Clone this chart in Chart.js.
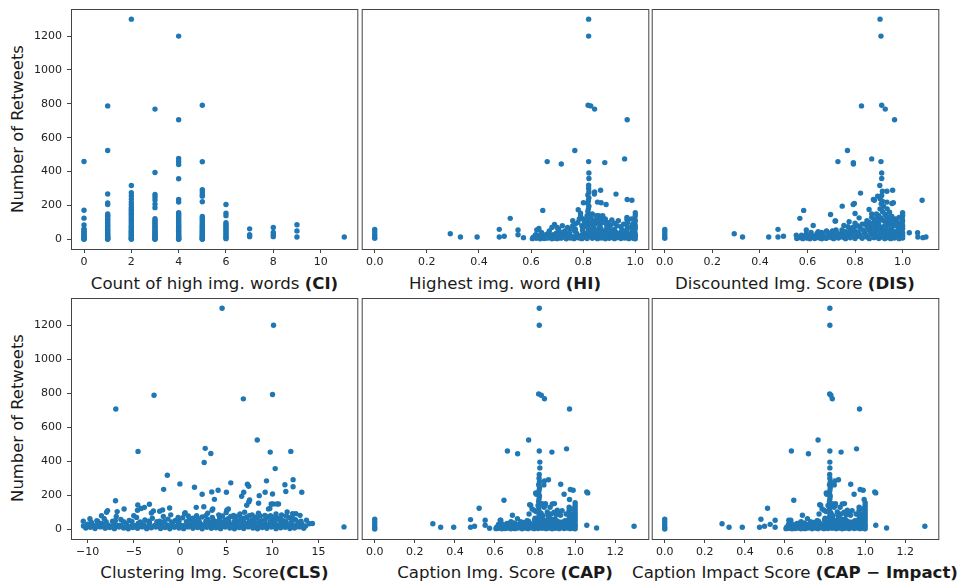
<!DOCTYPE html>
<html><head><meta charset="utf-8">
<script src="https://cdn.jsdelivr.net/npm/chart.js@4.4.1/dist/chart.umd.min.js"></script>
<style>
html,body{margin:0;padding:0;background:#fff;}
body{width:959px;height:584px;position:relative;overflow:hidden;font-family:"DejaVu Sans",sans-serif;color:#1a1a1a;}
canvas{position:absolute;}
.xt{position:absolute;white-space:nowrap;font-size:16.6px;transform:translate(-50%,-50%);}
.yt{position:absolute;white-space:nowrap;font-size:16.4px;transform:translate(-50%,-50%) rotate(-90deg);}
</style></head><body>
<div class="yt" style="left:17px;top:129px">Number of Retweets</div>
<div class="yt" style="left:17px;top:418px">Number of Retweets</div>
<div class="xt" style="left:214.5px;top:283px">Count of high img. words <b>(CI)</b></div>
<div class="xt" style="left:505px;top:283px">Highest img. word <b>(HI)</b></div>
<div class="xt" style="left:795px;top:283px">Discounted Img. Score <b>(DIS)</b></div>
<div class="xt" style="left:214.5px;top:572px">Clustering Img. Score<b>(CLS)</b></div>
<div class="xt" style="left:505px;top:572px">Caption Img. Score <b>(CAP)</b></div>
<div class="xt" style="left:795px;top:572px">Caption Impact Score <b>(CAP − Impact)</b></div>
<script>
const retweetTicks = [0,200,400,600,800,1000,1200];
const ciTicks = [0,2,4,6,8,10];
const hiTicks = [0,0.2,0.4,0.6,0.8,1.0];
const disTicks = [0,0.2,0.4,0.6,0.8,1.0];
const clsTicks = [-10,-5,0,5,10,15];
const capTicks = [0,0.2,0.4,0.6,0.8,1.0,1.2];

const ciPoints = [
[0,460],[0,172],[0,125],[0,85],[0,62],[0,55],[0,48],[0,40],[0,33],[0,27],[0,20],[0,14],[0,9],[0,5],[0,2],[0,0],
[1,788],[1,525],[1,268],[1,215],[1,205],[1,150],[1,143],[1,135],[1,126],[1,118],[1,110],[1,100],[1,92],[1,84],[1,76],[1,68],[1,60],[1,52],[1,45],[1,38],[1,31],[1,25],[1,19],[1,14],[1,9],[1,5],[1,2],[1,0],
[2,1300],[2,318],[2,275],[2,258],[2,238],[2,220],[2,205],[2,190],[2,178],[2,168],[2,158],[2,148],[2,138],[2,128],[2,118],[2,108],[2,98],[2,88],[2,78],[2,70],[2,62],[2,54],[2,47],[2,40],[2,33],[2,27],[2,21],[2,15],[2,10],[2,6],[2,3],[2,0],
[3,769],[3,395],[3,265],[3,250],[3,232],[3,208],[3,187],[3,122],[3,112],[3,102],[3,93],[3,85],[3,77],[3,69],[3,61],[3,53],[3,46],[3,39],[3,32],[3,26],[3,20],[3,14],[3,9],[3,5],[3,2],[3,0],
[4,1200],[4,706],[4,478],[4,460],[4,442],[4,358],[4,235],[4,220],[4,157],[4,148],[4,139],[4,130],[4,121],[4,112],[4,103],[4,94],[4,85],[4,77],[4,69],[4,61],[4,53],[4,46],[4,39],[4,32],[4,26],[4,20],[4,14],[4,9],[4,5],[4,2],[4,0],
[5,792],[5,458],[5,293],[5,280],[5,265],[5,255],[5,222],[5,135],[5,125],[5,115],[5,105],[5,96],[5,87],[5,78],[5,70],[5,62],[5,54],[5,46],[5,39],[5,32],[5,26],[5,20],[5,14],[5,9],[5,5],[5,2],[5,0],
[6,206],[6,155],[6,140],[6,98],[6,88],[6,78],[6,68],[6,58],[6,48],[6,38],[6,28],[6,18],[6,10],[6,4],
[7,62],[7,27],[7,16],[8,70],[8,40],[8,27],[8,16],[9,86],[9,50],[9,14],[11,14]
];

const hiPoints = [
[0.821,1300],[0.821,1200],[0.819,792],[0.829,788],[0.844,769],[0.969,706],[0.768,525],[0.662,459],[0.716,445],[0.821,459],[0.883,453],[0.959,475],
[0.822,392],[0.822,359],[0.821,320],[0.821,300],[0.844,280],[0.867,290],[0.843,267],[0.926,267],[0.801,216],[0.855,220],[0.869,216],[0.888,206],[0.969,235],[0.987,231],
[0.645,171],[0.781,175],[0.52,124],[0.478,59],[0.55,55],[0.29,33],[0.329,14],[0.393,14],[0.478,14],[0.497,18],[0.55,27],[0.571,10],[0.622,55],
[0,59],[0,45],[0,29],[0,14],[0,6],
[0.822,280],[0.818,262],[0.822,245],[0.82,228],[0.818,212],[0.822,196],[0.82,180],[0.818,164],[0.822,148],[0.82,132],[0.818,116],[0.822,100],[0.82,84],[0.818,68],
[1.0,157],[1.0,141],[0.998,125],[1.0,110],[0.998,95],[1.0,80],[1.0,65],[0.998,50],
[0.968,130],[0.968,115],[0.97,100],[0.968,85],[0.97,70],
[0.79,140],[0.80,120],[0.78,100],[0.81,90],[0.83,130],[0.84,110],[0.85,95],[0.86,140],[0.87,120],[0.88,105],[0.89,85],[0.84,75],[0.80,70],[0.86,65],[0.9,70],[0.76,80],[0.77,60],[0.92,60],[0.95,55],[0.93,80],[0.79,155],[0.875,100],[0.855,125],
[0.77,90],[0.785,120],[0.795,80],[0.805,105],[0.815,140],[0.83,95],[0.835,150],[0.845,90],[0.85,140],[0.86,110],[0.865,85],[0.875,140],[0.885,120],[0.895,100],[0.905,85],[0.91,115],[0.92,95],[0.935,110],[0.945,75],[0.955,90],[0.985,70],[0.99,90],[0.985,120],[0.76,110],[0.74,70],[0.72,80],[0.705,62],
[0.62,25],[0.64,40],[0.66,30],[0.68,70],[0.69,88],[0.70,70],[0.71,45],[0.73,50],[0.74,35],[0.75,60],[0.63,64],[0.67,50],
[0.605,4],[0.61,14],[0.62,6],[0.625,20],[0.635,3],[0.64,12],[0.65,5],[0.655,24],[0.665,8],[0.67,16],[0.68,3],[0.685,28],[0.69,10],[0.70,4],[0.705,18],[0.715,7],[0.72,30],[0.73,12],[0.735,3],[0.745,22],[0.75,8],[0.76,15],[0.765,4],[0.775,35],[0.78,10],[0.79,22],[0.795,4],[0.80,40],[0.805,12],[0.81,28],[0.815,5],[0.825,18],[0.83,45],[0.835,6],[0.84,25],[0.845,12],[0.85,38],[0.855,4],[0.86,20],[0.865,50],[0.87,8],[0.875,30],[0.88,14],[0.885,3],[0.89,42],[0.895,20],[0.90,6],[0.905,30],[0.91,12],[0.915,45],[0.92,4],[0.925,22],[0.93,10],[0.94,35],[0.945,5],[0.95,18],[0.955,28],[0.96,8],[0.965,40],[0.97,14],[0.975,4],[0.98,25],[0.985,10],[0.99,35],[0.995,5],[1.0,18],[1.0,3],[1.0,30],
[0.6075,10],[0.6175,28],[0.6275,12],[0.6375,30],[0.6475,18],[0.6575,8],[0.6675,34],[0.6775,20],[0.6875,6],[0.6975,38],[0.7075,26],[0.7175,14],[0.7275,44],[0.7375,20],[0.7475,35],[0.7575,10],[0.7675,48],[0.7775,22],[0.7875,8],[0.7975,55],[0.8075,30],[0.8175,42],[0.8275,60],[0.8375,35],[0.8475,52],[0.8575,28],[0.8675,65],[0.8775,45],[0.8875,58],[0.8975,32],[0.9075,50],[0.9175,25],[0.9275,40],[0.9375,20],[0.9475,48],[0.9575,38],[0.9675,55],[0.9775,30],[0.9875,48],[0.9975,42]
];

const disPoints = [
[0.905,1300],[0.909,1200],[0.827,788],[0.912,792],[0.927,769],[0.966,706],[0.768,525],[0.728,459],[0.793,453],[0.793,445],[0.87,475],[0.909,459],
[0.912,392],[0.912,359],[0.904,318],[0.823,273],[0.958,290],[0.934,284],[0.912,259],[0.895,255],[0.881,231],[0.797,212],[0.792,206],[0.934,220],[0.955,212],[1.082,231],
[0.746,196],[0.584,171],[0.568,124],[0.697,147],[0.859,176],[0.716,108],[0.775,104],[0.624,82],[0.476,59],[0.292,33],[0.327,14],[0.437,14],[0.476,14],[0.499,18],[0.553,24],[0.595,55],
[1.028,39],[1.063,39],[1.064,14],[1.085,10],[1.098,14],[0.8,153],[0.817,127],[0.877,235],[0.915,284],[0.961,216],[0.753,82],[0.718,108],
[0,59],[0,45],[0,29],[0,14],[0,6],
[0.905,240],[0.915,225],[0.91,210],[0.92,195],[0.905,180],[0.915,165],[0.925,150],[0.9,140],[0.91,125],[0.92,110],[0.93,95],[0.9,85],[0.915,70],
[1.0,157],[1.0,141],[0.998,125],[1.0,110],[0.998,95],[1.0,80],[1.0,65],[0.998,50],
[0.84,90],[0.85,110],[0.86,75],[0.87,130],[0.88,100],[0.89,150],[0.94,130],[0.95,100],[0.96,80],[0.97,120],[0.945,160],[0.935,180],[0.87,60],[0.89,70],[0.95,60],[0.98,55],[0.82,70],[0.8,95],[0.78,60],[0.76,45],[0.72,55],[0.68,50],[0.66,40],[0.64,35],
[0.86,100],[0.87,150],[0.875,85],[0.88,120],[0.89,95],[0.895,130],[0.9,110],[0.93,140],[0.935,120],[0.94,85],[0.945,105],[0.955,135],[0.96,110],[0.965,95],[0.975,80],[0.98,100],[0.99,75],[0.985,130],[0.92,75],[0.93,60],[0.85,80],[0.83,90],[0.81,80],[0.79,70],[0.77,75],
[0.555,5],[0.57,12],[0.58,4],[0.59,18],[0.6,7],[0.61,3],[0.62,14],[0.63,5],[0.64,22],[0.65,8],[0.66,3],[0.67,16],[0.68,6],[0.69,28],[0.7,10],[0.71,4],[0.72,20],[0.73,8],[0.74,30],[0.75,12],[0.76,4],[0.77,24],[0.78,9],[0.79,35],[0.8,5],[0.81,18],[0.82,28],[0.83,6],[0.84,40],[0.85,14],[0.86,4],[0.87,30],[0.88,10],[0.885,45],[0.89,20],[0.9,5],[0.905,35],[0.91,14],[0.92,50],[0.925,4],[0.93,25],[0.94,10],[0.945,40],[0.95,4],[0.96,22],[0.965,8],[0.97,35],[0.98,14],[0.985,4],[0.99,28],[1.0,8],[1.0,22],[1.0,38],[0.6,25],[0.7,35],[0.65,30],[0.75,42],[0.8,48],[0.86,52],
[0.565,10],[0.575,25],[0.585,8],[0.595,32],[0.605,14],[0.615,40],[0.625,20],[0.635,10],[0.645,45],[0.655,18],[0.665,28],[0.675,8],[0.685,40],[0.695,18],[0.705,50],[0.715,25],[0.725,38],[0.735,14],[0.745,55],[0.755,28],[0.765,18],[0.775,45],[0.785,22],[0.795,60],[0.805,30],[0.815,42],[0.825,15],[0.835,55],[0.845,25],[0.855,65],[0.865,38],[0.875,50],[0.885,22],[0.895,60],[0.905,48],[0.915,35],[0.925,65],[0.935,42],[0.945,25],[0.955,55],[0.965,45],[0.975,20],[0.985,48],[0.995,15]
];

const clsPoints = [
[4.56,1300],[10.13,1200],[-2.81,788],[-6.95,707],[6.86,767],[10.02,793],[8.37,525],[2.73,476],[3.34,446],[2.62,393],[-4.54,458],[9.77,454],[12.0,458],[10.31,357],
[-1.37,318],[-0.01,267],[-1.77,235],[1.57,247],[2.4,206],[3.44,220],[4.13,230],[5.03,218],[5.5,273],[7.3,265],[7.44,253],[6.9,218],[9.37,285],[9.22,218],[10.02,208],[11.36,262],[11.46,222],[12.25,292],[12.25,250],[13.19,218],
[-6.98,168],[-6.8,104],[-7.84,110],[-7.95,100],[-6.05,119],[-4.57,143],[-3.31,147],[-3.85,129],[-1.12,125],[-1.88,114],[-2.88,108],[6.68,194],[7.54,172],[8.51,153],[8.58,198],[10.09,149],[10.67,149],[9.73,123],[3.73,176],[2.58,133],[1.76,129],[3.55,119],[5.24,119],
[-10.47,48],[-9.75,62],[17.76,14],[14.34,34],[13.7,53],[12.55,92],[11.6,102],[-4.2,122],[-4.6,112],[-3.1,96],[-2.2,106],[0.56,98],[3.47,112],[5.07,112],[7.23,141],[7.45,161],[9.59,120],[9.88,149],[10.5,149],[12.2,92],[13.0,82],[12.7,24],[14.0,33],[-8.98,17],
[-10.2,8],[-9.7,12],[-9.2,5],[-8.6,14],[-8.1,6],[-7.6,10],[-7.1,4],[-6.6,13],[-6.1,7],[-5.6,3],[-5.1,11],[-4.6,6],[-4.1,14],[-3.6,4],[-3.1,9],[-2.6,13],[-2.1,5],[-1.6,10],[-1.1,3],[-0.6,12],[-0.1,7],[0.4,4],[0.9,14],[1.4,6],[1.9,10],[2.4,3],[2.9,12],[3.4,6],[3.9,9],[4.4,4],[4.9,13],[5.4,7],[5.9,3],[6.4,11],[6.9,5],[7.4,14],[7.9,8],[8.4,3],[8.9,10],[9.4,6],[9.9,13],[10.4,4],[10.9,9],[11.4,12],[11.9,5],[12.4,8],[12.9,14],[13.4,6],
[-10.0,30],[-9.3,22],[-8.5,35],[-7.8,26],[-7.2,38],[-6.5,24],[-5.8,33],[-5.2,21],[-4.5,36],[-3.9,27],[-3.3,40],[-2.7,23],[-2.0,32],[-1.4,25],[-0.8,38],[-0.2,28],[0.3,21],[0.8,35],[1.3,26],[1.8,40],[2.3,30],[2.8,22],[3.3,36],[3.8,27],[4.3,39],[4.8,24],[5.2,33],[5.7,28],[6.2,40],[6.7,22],[7.1,35],[7.6,29],[8.1,38],[8.6,24],[9.1,33],[9.6,27],[10.1,40],[10.6,23],[11.1,31],[11.6,26],[12.1,37],[12.6,22],[13.2,30],
[-9.0,50],[-8.2,62],[-7.3,48],[-6.4,58],[-5.5,52],[-4.7,70],[-3.8,55],[-3.0,65],[-2.2,48],[-1.3,60],[-0.5,52],[0.3,68],[1.0,55],[1.7,48],[2.4,72],[3.0,58],[3.7,50],[4.3,65],[4.9,55],[5.5,75],[6.1,50],[6.6,62],[7.2,70],[7.8,54],[8.3,66],[8.9,50],[9.5,72],[10.0,58],[10.6,64],[11.2,50],[11.8,70],[12.5,56],[13.1,48],
[-1.0,85],[0.5,92],[1.8,80],[3.0,95],[4.2,85],[5.0,98],[5.8,82],[6.5,90],[7.0,100],[7.8,85],[8.5,95],[9.2,82],[10.4,90],[11.0,84],
[-10.45,20],[-9.95,16],[-9.45,24],[-8.9,18],[-8.35,22],[-7.85,16],[-7.35,20],[-6.85,24],[-6.35,17],[-5.85,21],[-5.35,15],[-4.85,23],[-4.35,19],[-3.85,16],[-3.35,22],[-2.85,18],[-2.35,24],[-1.85,16],[-1.35,20],[-0.85,23],[-0.35,17],[0.15,21],[0.65,16],[1.15,24],[1.65,19],[2.15,15],[2.65,22],[3.15,18],[3.65,24],[4.15,16],[4.65,20],[5.15,23],[5.65,17],[6.15,21],[6.65,15],[7.15,24],[7.65,19],[8.15,16],[8.65,22],[9.15,18],[9.65,23],[10.15,17],[10.65,21],[11.15,16],[11.65,24],[12.15,19],[12.65,22],[13.15,16],[13.6,20],
[-9.6,42],[-8.9,46],[-8.0,44],[-7.0,50],[-6.1,44],[-5.2,46],[-4.3,43],[-3.4,48],[-2.5,44],[-1.7,46],[-0.9,43],[-0.1,47],[0.7,44],[1.4,46],[2.1,43],[2.8,48],[3.5,44],[4.1,46],[4.7,43],[5.3,48],[5.9,44],[6.4,46],[6.9,43],[7.5,47],[8.0,44],[8.6,48],[9.2,44],[9.8,46],[10.3,43],[10.9,48],[11.5,44],[12.1,46],[12.8,42],
[-1.8,75],[-0.2,70],[0.9,78],[1.4,65],[2.0,62],[2.8,80],[3.5,70],[4.6,78],[5.2,62],[5.9,68],[6.3,78],[6.9,66],[7.5,80],[8.1,72],[8.7,78],[9.3,64],[9.8,80],[10.3,72],[10.9,70],[11.5,78],[12.2,66],[-6.9,75],[-8.5,80],[-5.0,80]
];

const capPoints = [
[0.821,1300],[0.821,1200],[0.818,796],[0.831,788],[0.847,768],[0.972,707],[0.768,525],[0.662,460],[0.713,444],[0.821,460],[0.884,454],[0.957,473],
[0.824,395],[0.824,361],[0.821,322],[0.847,285],[0.867,291],[0.844,261],[0.928,265],[0.803,214],[0.806,206],[0.976,234],[0.99,230],[0.945,206],[1.058,220],[1.063,214],
[0.645,171],[0.972,175],[0.521,124],[0.478,57],[0.551,53],[0.29,33],[0.329,12],[0.394,12],[0.478,12],[0.498,18],[0.551,24],[0.573,6],[0.626,53],[1.058,24],[1.107,8],[1.294,18],[0.773,145],[0.852,151],[0.897,151],
[0,59],[0,43],[0,27],[0,12],[0,2],
[0.82,300],[0.822,280],[0.818,262],[0.822,245],[0.82,228],[0.818,212],[0.822,196],[0.82,180],[0.818,164],[0.822,148],[0.82,132],[0.818,116],[0.822,100],[0.82,84],[0.818,68],
[1.0,157],[1.0,141],[1.0,125],[1.0,110],[1.0,95],[1.0,80],[1.0,65],[1.0,50],
[0.97,130],[0.97,112],[0.97,95],[0.97,78],
[0.778,141],[0.795,112],[0.845,130],[0.886,149],[0.911,112],[0.927,83],[0.861,102],[0.687,83],[0.712,63],[0.629,53],[0.969,57],[0.84,80],[0.87,70],[0.9,60],[0.8,65],[0.76,50],[0.74,40],[0.88,90],[0.95,50],[0.68,45],[0.66,35],[0.86,48],[0.93,42],
[0.77,90],[0.785,120],[0.805,105],[0.815,140],[0.83,95],[0.835,150],[0.85,140],[0.865,85],[0.875,130],[0.895,100],[0.905,85],[0.92,95],[0.935,110],[0.955,90],[0.985,70],[0.99,90],[0.985,120],
[0.605,4],[0.61,14],[0.62,6],[0.625,20],[0.635,3],[0.64,12],[0.65,5],[0.655,24],[0.665,8],[0.67,16],[0.68,3],[0.685,28],[0.69,10],[0.70,4],[0.705,18],[0.715,7],[0.72,30],[0.73,12],[0.735,3],[0.745,22],[0.75,8],[0.76,15],[0.765,4],[0.775,35],[0.78,10],[0.79,22],[0.795,4],[0.80,40],[0.805,12],[0.81,28],[0.815,5],[0.825,18],[0.83,45],[0.835,6],[0.84,25],[0.845,12],[0.85,38],[0.855,4],[0.86,20],[0.865,50],[0.87,8],[0.875,30],[0.88,14],[0.885,3],[0.89,42],[0.895,20],[0.90,6],[0.905,30],[0.91,12],[0.915,45],[0.92,4],[0.925,22],[0.93,10],[0.94,35],[0.945,5],[0.95,18],[0.955,28],[0.96,8],[0.965,40],[0.97,14],[0.975,4],[0.98,25],[0.985,10],[0.99,35],[0.995,5],[1.0,18],[1.0,3],[1.0,30],
[0.6075,10],[0.6175,28],[0.6275,12],[0.6375,30],[0.6475,18],[0.6575,8],[0.6675,34],[0.6775,20],[0.6875,6],[0.6975,38],[0.7075,26],[0.7175,14],[0.7275,44],[0.7375,20],[0.7475,35],[0.7575,10],[0.7675,48],[0.7775,22],[0.7875,8],[0.7975,55],[0.8075,30],[0.8175,42],[0.8275,60],[0.8375,35],[0.8475,52],[0.8575,28],[0.8675,65],[0.8775,45],[0.8875,58],[0.8975,32],[0.9075,50],[0.9175,25],[0.9275,40],[0.9375,20],[0.9475,48],[0.9575,38],[0.9675,55],[0.9775,30],[0.9875,48],[0.9975,42]
];

const capImpactPoints = [
[0.824,1300],[0.824,1200],[0.823,796],[0.829,788],[0.836,768],[0.972,707],[0.765,525],[0.632,460],[0.717,444],[0.824,460],[0.88,454],[0.957,473],
[0.824,395],[0.824,361],[0.823,322],[0.849,285],[0.867,291],[0.846,261],[0.928,265],[0.806,214],[0.808,206],[0.975,234],[0.99,230],[0.945,206],[1.048,220],[1.053,214],
[0.644,171],[0.995,175],[0.513,124],[0.48,59],[0.551,53],[0.286,33],[0.321,12],[0.387,12],[0.473,12],[0.498,18],[0.526,29],[0.551,12],[0.619,53],[1.053,24],[1.107,8],[1.298,18],[0.773,145],[0.852,151],[0.897,151],
[0,59],[0,43],[0,27],[0,12],[0,2],
[0.824,300],[0.826,280],[0.822,262],[0.826,245],[0.824,228],[0.822,212],[0.826,196],[0.824,180],[0.822,164],[0.826,148],[0.824,132],[0.822,116],[0.826,100],[0.824,84],[0.822,68],
[1.0,157],[1.0,141],[1.0,125],[1.0,110],[1.0,95],[1.0,80],[1.0,65],[1.0,50],
[0.97,130],[0.97,112],[0.97,95],[0.97,78],
[0.778,141],[0.795,112],[0.845,130],[0.886,149],[0.911,112],[0.927,83],[0.861,102],[0.687,83],[0.712,63],[0.629,53],[0.969,57],[0.84,80],[0.87,70],[0.9,60],[0.8,65],[0.76,50],[0.74,40],[0.88,90],[0.95,50],[0.68,45],[0.66,35],[0.86,48],[0.93,42],
[0.77,90],[0.785,120],[0.805,105],[0.815,140],[0.83,95],[0.835,150],[0.85,140],[0.865,85],[0.875,130],[0.895,100],[0.905,85],[0.92,95],[0.935,110],[0.955,90],[0.985,70],[0.99,90],[0.985,120],
[0.605,4],[0.61,14],[0.62,6],[0.625,20],[0.635,3],[0.64,12],[0.65,5],[0.655,24],[0.665,8],[0.67,16],[0.68,3],[0.685,28],[0.69,10],[0.70,4],[0.705,18],[0.715,7],[0.72,30],[0.73,12],[0.735,3],[0.745,22],[0.75,8],[0.76,15],[0.765,4],[0.775,35],[0.78,10],[0.79,22],[0.795,4],[0.80,40],[0.805,12],[0.81,28],[0.815,5],[0.825,18],[0.83,45],[0.835,6],[0.84,25],[0.845,12],[0.85,38],[0.855,4],[0.86,20],[0.865,50],[0.87,8],[0.875,30],[0.88,14],[0.885,3],[0.89,42],[0.895,20],[0.90,6],[0.905,30],[0.91,12],[0.915,45],[0.92,4],[0.925,22],[0.93,10],[0.94,35],[0.945,5],[0.95,18],[0.955,28],[0.96,8],[0.965,40],[0.97,14],[0.975,4],[0.98,25],[0.985,10],[0.99,35],[0.995,5],[1.0,18],[1.0,3],[1.0,30],
[0.6075,10],[0.6175,28],[0.6275,12],[0.6375,30],[0.6475,18],[0.6575,8],[0.6675,34],[0.6775,20],[0.6875,6],[0.6975,38],[0.7075,26],[0.7175,14],[0.7275,44],[0.7375,20],[0.7475,35],[0.7575,10],[0.7675,48],[0.7775,22],[0.7875,8],[0.7975,55],[0.8075,30],[0.8175,42],[0.8275,60],[0.8375,35],[0.8475,52],[0.8575,28],[0.8675,65],[0.8775,45],[0.8875,58],[0.8975,32],[0.9075,50],[0.9175,25],[0.9275,40],[0.9375,20],[0.9475,48],[0.9575,38],[0.9675,55],[0.9775,30],[0.9875,48],[0.9975,42]
];

const intFmt = v => String(v);
const decFmt = v => v.toFixed(1);
const minusFmt = v => v < 0 ? '\u2212' + Math.abs(v) : String(v);

const framePlugin = {
  id: 'frame',
  afterDatasetsDraw(chart) {
    const a = chart.chartArea, c = chart.ctx;
    c.save();
    c.strokeStyle = '#444';
    c.lineWidth = 1;
    c.strokeRect(a.left + 0.5, a.top + 0.5, a.right - a.left, a.bottom - a.top);
    c.restore();
  }
};

const panels = [
  {pts: ciPoints, xmin: -0.55, xmax: 11.55, ticks: ciTicks, fmt: intFmt, yAxis: true, padL: 0, left: 20, top: 5, w: 340, h: 268},
  {pts: hiPoints, xmin: -0.05, xmax: 1.05, ticks: hiTicks, fmt: decFmt, yAxis: false, padL: 2, left: 359, top: 5, w: 292, h: 268},
  {pts: disPoints, xmin: -0.055, xmax: 1.15, ticks: disTicks, fmt: decFmt, yAxis: false, padL: 2, left: 649, top: 5, w: 292, h: 268},
  {pts: clsPoints, xmin: -11.8, xmax: 19.2, ticks: clsTicks, fmt: minusFmt, yAxis: true, padL: 0, left: 20, top: 294, w: 340, h: 269},
  {pts: capPoints, xmin: -0.065, xmax: 1.365, ticks: capTicks, fmt: decFmt, yAxis: false, padL: 2, left: 359, top: 294, w: 292, h: 269},
  {pts: capImpactPoints, xmin: -0.065, xmax: 1.365, ticks: capTicks, fmt: decFmt, yAxis: false, padL: 2, left: 649, top: 294, w: 292, h: 269}
];

const tickFont = {family: 'DejaVu Sans', size: 11};

panels.forEach(p => {
  const cv = document.createElement('canvas');
  cv.width = p.w; cv.height = p.h;
  cv.style.left = p.left + 'px'; cv.style.top = p.top + 'px';
  cv.style.width = p.w + 'px'; cv.style.height = p.h + 'px';
  document.body.appendChild(cv);
  new Chart(cv.getContext('2d'), {
    type: 'scatter',
    data: {datasets: [{
      data: p.pts.map(([x, y]) => ({x, y})),
      backgroundColor: '#1f77b4', borderWidth: 0,
      pointRadius: 2.7, pointHoverRadius: 2.7
    }]},
    options: {
      responsive: false, animation: false, devicePixelRatio: 1, events: [],
      layout: {padding: {left: p.padL, right: 2, top: 4, bottom: 0}},
      plugins: {legend: {display: false}, tooltip: {enabled: false}},
      scales: {
        x: {
          type: 'linear', min: p.xmin, max: p.xmax,
          afterBuildTicks: s => { s.ticks = p.ticks.map(v => ({value: v})); },
          afterFit: s => { s.height = 24; s.paddingLeft = 0; s.paddingRight = 0; },
          ticks: {autoSkip: false, maxRotation: 0, padding: 3, color: '#222', font: tickFont, callback: v => p.fmt(v)},
          grid: {drawOnChartArea: false, drawTicks: true, tickLength: 4, color: '#444'},
          border: {display: false}
        },
        y: {
          type: 'linear', display: p.yAxis, min: -57, max: 1360,
          afterBuildTicks: s => { s.ticks = retweetTicks.map(v => ({value: v})); },
          afterFit: s => { s.width = p.yAxis ? 51 : 0; s.paddingTop = 0; s.paddingBottom = 0; },
          ticks: {autoSkip: false, padding: 5, color: '#222', font: tickFont, callback: v => String(v)},
          grid: {drawOnChartArea: false, drawTicks: true, tickLength: 4, color: '#444'},
          border: {display: false}
        }
      }
    },
    plugins: [framePlugin]
  });
});
</script>
</body></html>
